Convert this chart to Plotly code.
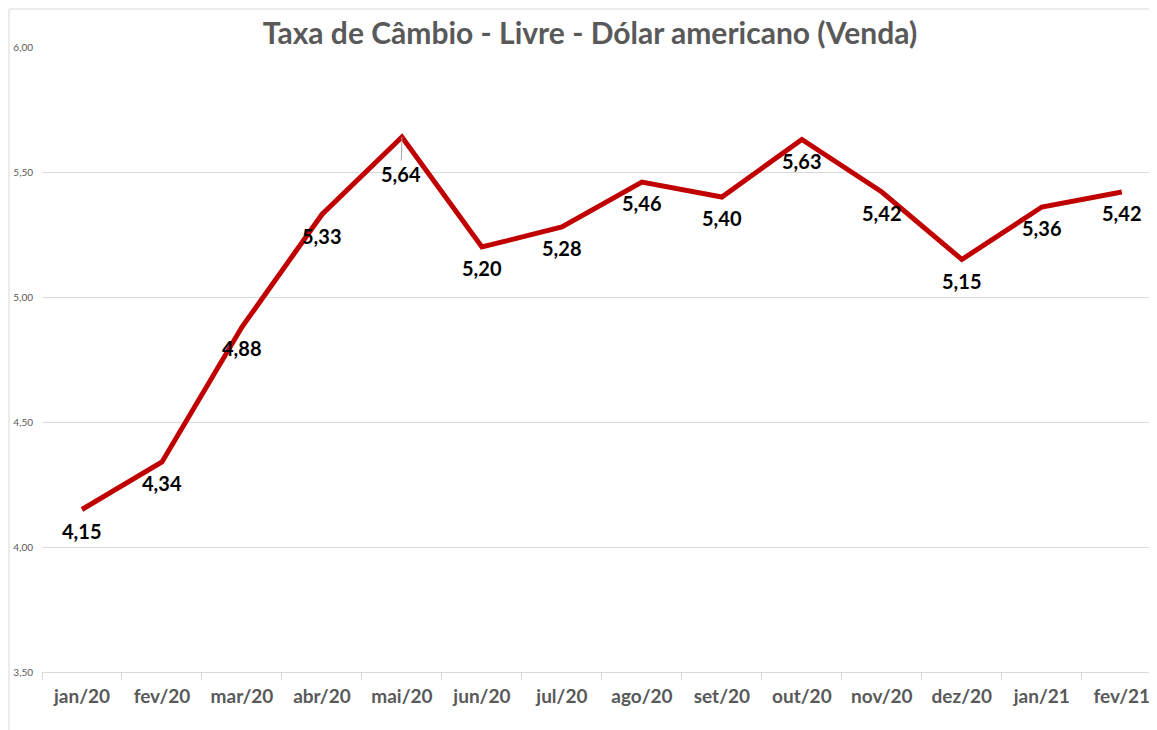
import plotly.graph_objects as go

months = ["jan/20", "fev/20", "mar/20", "abr/20", "mai/20", "jun/20", "jul/20",
          "ago/20", "set/20", "out/20", "nov/20", "dez/20", "jan/21", "fev/21"]
rates = [4.15, 4.34, 4.88, 5.33, 5.64, 5.20, 5.28, 5.46, 5.40, 5.63, 5.42, 5.15, 5.36, 5.42]
y_ticks = [3.5, 4.0, 4.5, 5.0, 5.5, 6.0]
title_text = "Taxa de Câmbio - Livre - Dólar americano (Venda)"

FONT = "Lato"
GRAY = "#595959"
RED = "#c00000"

W, H = 1149, 722
ML, MR, MT, MB = 34, 0, 39, 58
PW, PH = W - ML - MR, H - MT - MB

fig = go.Figure()
fig.add_trace(go.Scatter(
    x=months, y=rates, mode="lines",
    line=dict(color=RED, width=5),
    hoverinfo="skip", showlegend=False,
))

annotations = []
peak = max(rates)
for m, v in zip(months, rates):
    label = f"{v:.2f}".replace(".", ",")
    if v == peak:
        annotations.append(dict(
            x=m, y=v, xref="x", yref="y", text=label,
            showarrow=True, ax=-1, ay=37, arrowhead=0, arrowwidth=1,
            arrowcolor="#a6a6a6", standoff=0,
            font=dict(family=FONT, size=20, color="black", weight="bold"),
        ))
    else:
        annotations.append(dict(
            x=m, y=v, xref="x", yref="y", text=label, showarrow=False,
            yshift=-21,
            font=dict(family=FONT, size=20, color="black", weight="bold"),
        ))

bx = (1 - ML) / PW
by = 1 + (MT - 1) / PH
fig.update_layout(
    width=W, height=H,
    margin=dict(l=ML, r=MR, t=MT, b=MB),
    paper_bgcolor="white", plot_bgcolor="white",
    title=dict(text=title_text, x=582 / W, xanchor="center", y=1 - 25 / H,
               yanchor="middle", yref="container",
               font=dict(family=FONT, size=30, color=GRAY, weight="bold")),
    annotations=annotations,
    shapes=[
        dict(type="line", xref="paper", yref="paper",
             x0=bx, x1=1.01, y0=by, y1=by,
             line=dict(color="#d9d9d9", width=1)),
        dict(type="line", xref="paper", yref="paper",
             x0=bx, x1=bx, y0=by, y1=-MB / PH,
             line=dict(color="#d9d9d9", width=1)),
    ],
)

fig.update_xaxes(
    type="category", range=[-0.5, 13.44],
    tickson="boundaries", ticks="outside", ticklen=7, tickcolor="#d9d9d9",
    ticklabelstandoff=7,
    showline=True, linecolor="#d9d9d9", linewidth=1,
    showgrid=False, zeroline=False,
    tickfont=dict(family=FONT, size=19, color=GRAY, weight="bold"),
)
fig.update_yaxes(
    range=[3.5, 6.0], tickvals=y_ticks,
    ticktext=[f"{t:.2f}".replace(".", ",") for t in y_ticks],
    showgrid=True, gridcolor="#d9d9d9", gridwidth=1,
    zeroline=False, showline=False, ticks="outside", ticklen=6, tickcolor="white",
    tickfont=dict(family=FONT, size=10, color=GRAY),
)

fig.write_html("out.html")
